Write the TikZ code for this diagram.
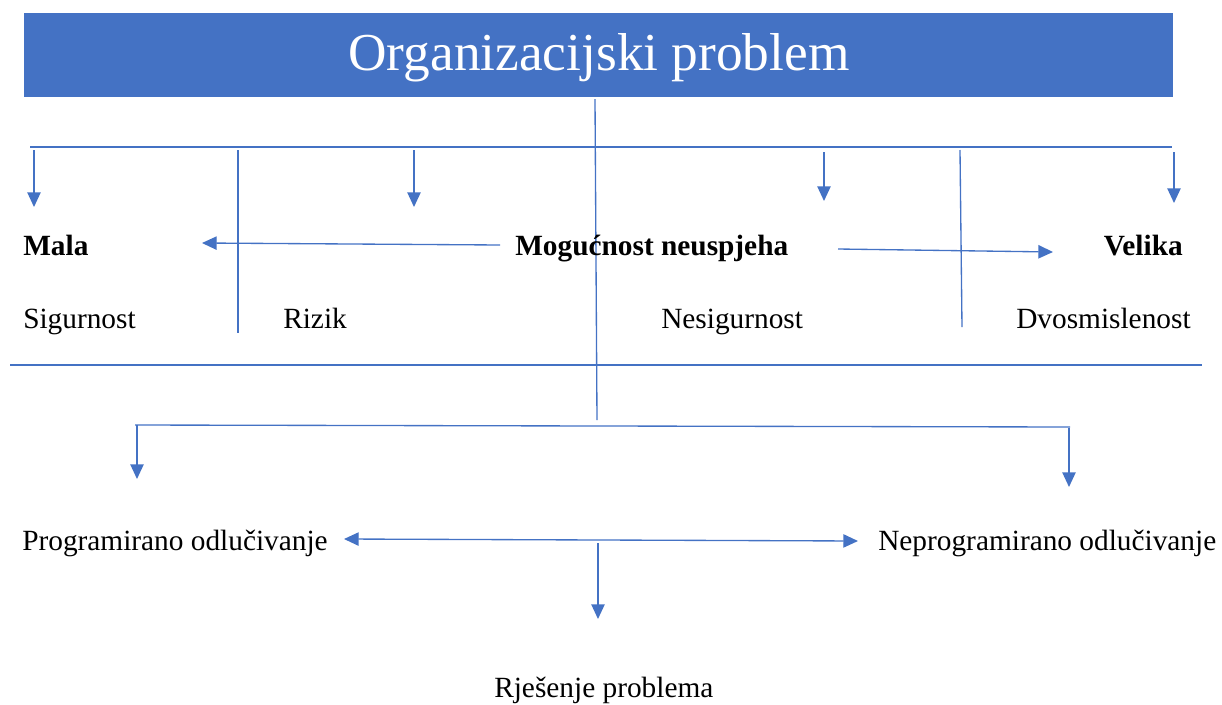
\documentclass[tikz,border=0pt]{standalone}
\usepackage{fontspec}
\setmainfont{Liberation Serif}
\usetikzlibrary{arrows.meta}
\definecolor{wblue}{HTML}{4472C4}
\tikzset{
  conn/.style={draw=wblue, line width=1pt},
  arr/.style={conn, -{Triangle[width=10pt,length=11pt]}},
  darr/.style={conn, {Triangle[width=10pt,length=11pt]}-{Triangle[width=10pt,length=11pt]}},
  lbl/.style={inner sep=0pt, font=\fontsize{22}{26}\selectfont},
  blbl/.style={lbl, font=\fontsize{22}{26}\selectfont\bfseries},
}
\begin{document}
\begin{tikzpicture}[x=0.75pt,y=-0.75pt]
\useasboundingbox (0,0) rectangle (1222,704);
% banner
\node[fill=wblue, minimum width=1149*0.75pt, minimum height=84*0.75pt, inner sep=0pt, anchor=north west] (banner) at (24,13) {};
\node[inner sep=0pt, anchor=base, text=white, font=\fontsize{40}{48}\selectfont] (title) at (599,70) {Organizacijski problem};
% trunk
\coordinate (t0) at (595,99);
\coordinate (t1) at (597,420);
\draw[conn] (t0) -- (t1);
% top bar
\coordinate (b0) at (30,147);
\coordinate (b1) at (1172,147);
\draw[conn] (b0) -- (b1);
\coordinate (a1s) at (34,150); \coordinate (a1e) at (34,207);
\coordinate (a2s) at (414,150); \coordinate (a2e) at (414,207);
\coordinate (a3s) at (824,152); \coordinate (a3e) at (824,201);
\coordinate (a4s) at (1174,152); \coordinate (a4e) at (1174,203);
\draw[arr] (a1s) -- (a1e);
\draw[arr] (a2s) -- (a2e);
\draw[arr] (a3s) -- (a3e);
\draw[arr] (a4s) -- (a4e);
% separators
\coordinate (s1a) at (238,150); \coordinate (s1b) at (238,333);
\coordinate (s2a) at (960,150); \coordinate (s2b) at (962,327);
\draw[conn] (s1a) -- (s1b);
\draw[conn] (s2a) -- (s2b);
% labels
\node[blbl, anchor=base west] (mala) at (23,255) {Mala};
\node[blbl, anchor=base west] (mog) at (515,255) {Mogućnost neuspjeha};
\node[blbl, anchor=base east] (vel) at (1183,255) {Velika};
\coordinate (m0) at (500,245); \coordinate (m1) at (202,243);
\coordinate (v0) at (838,249); \coordinate (v1) at (1053,252);
\draw[arr] (m0) -- (m1);
\draw[arr] (v0) -- (v1);
\node[lbl, anchor=base west] (sig) at (23,328) {Sigurnost};
\node[lbl, anchor=base west] (riz) at (283,328) {Rizik};
\node[lbl, anchor=base west] (nes) at (661,328) {Nesigurnost};
\node[lbl, anchor=base west] (dvo) at (1016,328) {Dvosmislenost};
% mid line
\coordinate (h0) at (10,365); \coordinate (h1) at (1202,365);
\draw[conn] (h0) -- (h1);
% lower bar
\coordinate (l0) at (135,425); \coordinate (l1) at (1070,427);
\draw[conn] (l0) -- (l1);
\coordinate (p0) at (137,425); \coordinate (p1) at (137,479);
\coordinate (n0) at (1069,428); \coordinate (n1) at (1069,487);
\draw[arr] (p0) -- (p1);
\draw[arr] (n0) -- (n1);
\node[lbl, anchor=base west] (prog) at (22,550) {Programirano odlučivanje};
\node[lbl, anchor=base west] (nprog) at (878,550) {Neprogramirano odlučivanje};
\coordinate (d0) at (344,539); \coordinate (d1) at (858,541);
\draw[darr] (d0) -- (d1);
\coordinate (r0) at (598,543); \coordinate (r1) at (598,619);
\draw[arr] (r0) -- (r1);
\node[lbl, anchor=base west] (rje) at (494,697) {Rješenje problema};
\end{tikzpicture}
\end{document}
